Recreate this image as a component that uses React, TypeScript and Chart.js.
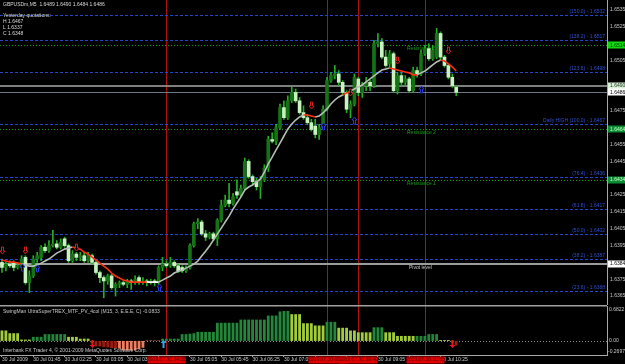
import React, { useEffect, useRef } from 'react';
import { Chart, registerables } from 'chart.js';

Chart.register(...registerables);

const FONT = '"Liberation Sans", Arial, sans-serif';
const SYMBOL = 'GBPUSDm,M5';
const DAY = '30 Jul';
const YEAR = '2009';
const DATE = '2009.07.30';
const FIRST_BAR_MIN = 65; // 01:05
const BAR_MIN = 5;
const SLOTS = 155;

const openP = [
  1.6385,1.6382,1.6384,1.6385,1.6382,1.6383,1.6388,1.6373,1.6377,1.6387,
  1.6388,1.6394,1.6392,1.6395,1.6396,1.6394,1.6399,1.6395,1.6386,1.6390,
  1.6388,1.6389,1.6386,1.6389,1.6385,1.6379,1.6376,1.6374,1.6377,1.6370,
  1.6372,1.6373,1.6372,1.6374,1.6373,1.6376,1.6373,1.6374,1.6373,1.6374,
  1.6373,1.6382,1.6384,1.6383,1.6385,1.6383,1.6382,1.6380,1.6382,1.6395,
  1.6408,1.6409,1.6402,1.6400,1.6402,1.6399,1.6410,1.6419,1.6422,1.6420,
  1.6427,1.6425,1.6429,1.6445,1.6436,1.6433,1.6430,1.6434,1.6441,1.6458,
  1.6457,1.6465,1.6477,1.6471,1.6481,1.6486,1.6481,1.6474,1.6471,1.6468,
  1.6466,1.6461,1.6465,1.6476,1.6493,1.6496,1.6497,1.6492,1.6486,1.6476,
  1.6479,1.6494,1.6486,1.6490,1.6492,1.6490,1.6515,1.6516,1.6507,1.6503,
  1.6509,1.6487,1.6496,1.6492,1.6494,1.6487,1.6499,1.6497,1.6509,1.6512,
  1.6506,1.6507,1.6521,1.6507,1.6502,1.6495,1.6489
];
const highP = [
  1.6387,1.6385,1.6386,1.6386,1.6385,1.6389,1.6389,1.6380,1.6389,1.6391,
  1.6395,1.6396,1.6398,1.6404,1.6398,1.6399,1.6400,1.6396,1.6392,1.6391,
  1.6391,1.6391,1.6391,1.6390,1.6386,1.6380,1.6377,1.6378,1.6378,1.6373,
  1.6374,1.6374,1.6375,1.6375,1.6377,1.6377,1.6376,1.6375,1.6375,1.6375,
  1.6383,1.6388,1.6386,1.6388,1.6386,1.6384,1.6383,1.6383,1.6396,1.6409,
  1.6411,1.6410,1.6404,1.6403,1.6403,1.6411,1.6422,1.6425,1.6432,1.6426,
  1.6434,1.6431,1.6447,1.6446,1.6437,1.6435,1.6436,1.6443,1.6460,1.6462,
  1.6467,1.6479,1.6481,1.6484,1.6489,1.6488,1.6483,1.6478,1.6473,1.6470,
  1.6470,1.6467,1.6478,1.6495,1.6498,1.6502,1.6499,1.6493,1.6487,1.6481,
  1.6497,1.6495,1.6492,1.6495,1.6493,1.6517,1.6521,1.6518,1.6511,1.6511,
  1.6510,1.6498,1.6498,1.6496,1.6495,1.6501,1.6501,1.6511,1.6514,1.6515,
  1.6514,1.6524,1.6522,1.6508,1.6503,1.6497,1.6490
];
const lowP = [
  1.6379,1.6380,1.6382,1.6380,1.6381,1.6382,1.6372,1.6367,1.6376,1.6385,
  1.6386,1.6391,1.6391,1.6394,1.6393,1.6393,1.6394,1.6385,1.6385,1.6386,
  1.6386,1.6385,1.6385,1.6384,1.6378,1.6373,1.6364,1.6372,1.6369,1.6365,
  1.6370,1.6371,1.6370,1.6369,1.6372,1.6372,1.6372,1.6371,1.6372,1.6371,
  1.6372,1.6380,1.6382,1.6382,1.6382,1.6379,1.6379,1.6379,1.6381,1.6394,
  1.6405,1.6401,1.6398,1.6399,1.6398,1.6395,1.6409,1.6418,1.6418,1.6419,
  1.6423,1.6424,1.6428,1.6435,1.6431,1.6428,1.6423,1.6433,1.6439,1.6456,
  1.6455,1.6464,1.6470,1.6470,1.6480,1.6480,1.6473,1.6470,1.6467,1.6463,
  1.6459,1.6458,1.6464,1.6475,1.6492,1.6494,1.6490,1.6484,1.6474,1.6471,
  1.6478,1.6484,1.6483,1.6487,1.6487,1.6489,1.6513,1.6506,1.6501,1.6501,
  1.6486,1.6485,1.6490,1.6490,1.6486,1.6486,1.6495,1.6496,1.6508,1.6505,
  1.6505,1.6506,1.6505,1.6501,1.6494,1.6489,1.6484
];
const closeP = [
  1.6382,1.6384,1.6383,1.6382,1.6383,1.6387,1.6373,1.6377,1.6387,1.6389,
  1.6394,1.6392,1.6395,1.6396,1.6394,1.6397,1.6395,1.6386,1.6390,1.6388,
  1.6389,1.6386,1.6389,1.6385,1.6379,1.6376,1.6374,1.6377,1.6370,1.6372,
  1.6373,1.6372,1.6374,1.6373,1.6375,1.6373,1.6374,1.6373,1.6374,1.6373,
  1.6382,1.6384,1.6383,1.6385,1.6383,1.6380,1.6380,1.6382,1.6395,1.6408,
  1.6409,1.6402,1.6400,1.6402,1.6399,1.6410,1.6419,1.6422,1.6420,1.6424,
  1.6425,1.6429,1.6445,1.6436,1.6433,1.6430,1.6434,1.6441,1.6458,1.6457,
  1.6465,1.6477,1.6471,1.6481,1.6486,1.6481,1.6474,1.6471,1.6468,1.6464,
  1.6461,1.6465,1.6476,1.6493,1.6496,1.6497,1.6492,1.6486,1.6476,1.6479,
  1.6495,1.6486,1.6490,1.6492,1.6490,1.6515,1.6516,1.6507,1.6502,1.6509,
  1.6487,1.6496,1.6492,1.6494,1.6487,1.6499,1.6497,1.6509,1.6512,1.6506,
  1.6511,1.6521,1.6507,1.6502,1.6495,1.6490,1.6486
];

const maValues = [
  1.63864,1.63858,1.63852,1.63852,1.63846,1.63840,1.63834,1.63828,1.63828,1.63834,
  1.63846,1.63858,1.63870,1.63888,1.63905,1.63917,1.63929,1.63935,1.63941,1.63935,
  1.63929,1.63911,1.63899,1.63882,1.63864,1.63846,1.63828,1.63810,1.63787,1.63769,
  1.63757,1.63745,1.63739,1.63733,1.63733,1.63733,1.63733,1.63733,1.63733,1.63733,
  1.63733,1.63745,1.63757,1.63769,1.63787,1.63798,1.63804,1.63816,1.63828,1.63840,
  1.63858,1.63888,1.63917,1.63947,1.63983,1.64018,1.64054,1.64090,1.64125,1.64167,
  1.64203,1.64238,1.64280,1.64298,1.64310,1.64328,1.64345,1.64387,1.64435,1.64476,
  1.64518,1.64559,1.64601,1.64643,1.64672,1.64696,1.64714,1.64726,1.64726,1.64720,
  1.64714,1.64720,1.64738,1.64762,1.64791,1.64815,1.64833,1.64845,1.64857,1.64869,
  1.64880,1.64892,1.64904,1.64922,1.64940,1.64958,1.64976,1.64993,1.64999,1.65005,
  1.64999,1.64993,1.64987,1.64981,1.64976,1.64964,1.64964,1.64976,1.64987,1.65005,
  1.65023,1.65041,1.65053,1.65047,1.65029,1.65011,1.64987
];
// bar ranges where the moving average is falling (drawn red) / flat (white)
const maDownRanges = [[0, 5], [18, 37], [77, 80], [87, 89], [99, 106], [112, 116]];
const maFlatRanges = [[37, 40]];

const histValues = [
  0.23,0.23,0.17,0.17,0.17,0.03,0.03,0.03,
  0.09,0.09,0.09,0.15,0.15,0.15,0.15,0.15,0.15,
  0.09,0.09,0.09,0.05,0.05,0.05,
  -0.05,-0.12,-0.12,-0.14,-0.14,-0.16,-0.16,
  -0.17,-0.21,-0.21,-0.21,-0.21,-0.18,-0.15,
  0.01,0.01,0.01,0.01,
  0.05,0.05,0.05,0.05,0.05,
  0.15,0.15,0.16,0.17,0.20,0.20,0.20,0.20,0.20,
  0.40,0.40,0.40,0.40,0.40,0.40,
  0.47,0.47,0.47,0.47,0.47,0.47,0.47,
  0.56,0.56,0.56,
  0.65,0.66,0.66,
  0.59,0.59,0.59,
  0.39,0.39,0.39,
  0.34,0.34,0.34,
  0.42,0.42,0.42,
  0.29,0.29,0.29,
  0.23,0.23,
  0.19,0.19,0.19,0.19,
  0.30,0.30,0.30,
  0.19,0.19,0.19,
  0.11,0.11,0.11,0.11,0.11,
  0.11,0.11,0.11,
  0.15,0.15,0.15,
  0.02,0.02,0.02,
  -0.05,-0.10
];
// indicator state per bar: W = weak up, U = strong up, S = strong down, D = weak down
const histState = (
  'WWWWWWWW' + 'UUUUUUUUU' + 'WWWWWW' + 'SSSSSSS' + 'DDDDDDD' + 'DDDD' +
  'UUUUU' + 'UUUUUUUUU' + 'UUUUUU' + 'UUUUUUU' + 'UUU' + 'UUU' +
  'WWW' + 'WWW' + 'WWW' + 'UUU' + 'WWW' + 'WW' + 'WWWW' + 'UUU' + 'WWW' +
  'WWWWW' + 'UUU' + 'UUU' + 'WWW' + 'SS'
).split('');
const indicatorMin = -0.2697;
const indicatorMax = 0.6822;
const indicatorLast = -0.0833;
const indSignalIdx = [23, 41, 115];
const indSignalUp = [false, true, false];

const yTicks = [1.6535, 1.6525, 1.6505, 1.6475, 1.6455, 1.6445, 1.6425, 1.6415, 1.6405, 1.6395, 1.6375, 1.6365];
const Y_MIN = 1.63597;
const Y_MAX = 1.65409;

const xTickIdx = [0, 8, 16, 24, 32, 40, 48, 56, 64, 72, 80, 88, 96, 104, 112];

const yesterdayH = 1.6467;
const yesterdayL = 1.6337;
const yesterdayC = 1.6348;

const fibPct = ['150.0', '138.2', '123.6', '100.0', '76.4', '61.8', '50.0', '38.2', '23.6'];
const fibPrice = [1.6532, 1.6517, 1.6498, 1.6467, 1.6436, 1.6417, 1.6402, 1.6387, 1.6368];
const pivotNames = ['Resistance 3', 'Resistance 2', 'Resistance 1'];
const pivotPrices = [1.6514, 1.6464, 1.6434];
const pivotLevel = 1.6384;
const askPrice = 1.6490;

const markerIdx = [42, 83, 91, 108];

const sellIdx = [0, 6, 19, 79, 89, 101, 114];
const sellPrice = [1.63923, 1.63923, 1.63941, 1.64785, 1.64863, 1.65053, 1.65112];
const buyIdx = [5, 9, 40, 82, 90, 107];
const buyPrice = [1.63822, 1.63816, 1.63703, 1.64660, 1.64696, 1.64880];

function barTime(i: number) {
  const m = FIRST_BAR_MIN + BAR_MIN * i;
  return String(Math.floor(m / 60)).padStart(2, '0') + ':' + String(m % 60).padStart(2, '0');
}

const C = {
  wick: '#22b022',
  bull: '#157215',
  bear: '#c8f2c0',
  maUp: '#b4beb4',
  maDown: '#ff3010',
  maFlat: '#ffffff',
  fib: '#2446c8',
  fibText: '#2e50d0',
  pivot: '#0f9a0f',
  pivotText: '#1a9a1a',
  red: '#b01010',
  axis: '#a8a8a8',
  text: '#c8c8c8',
  sell: '#d02020',
  buy: '#2a3ad8',
};
const histColors: Record<string, string> = { W: '#a2cc3c', U: '#23863a', S: '#9a1c10', D: '#ee7c5e' };

function inRanges(i: number, ranges: number[][]) {
  return ranges.some(([a, b]) => i >= a && i < b);
}

function arrowPath(ctx: CanvasRenderingContext2D, x: number, cy: number, up: boolean, w = 5, h = 7) {
  const hw = w / 2, head = 3, sw = 1;
  const top = cy - h / 2, bot = cy + h / 2;
  ctx.beginPath();
  if (up) {
    ctx.moveTo(x, top); ctx.lineTo(x + hw, top + head); ctx.lineTo(x + sw, top + head);
    ctx.lineTo(x + sw, bot); ctx.lineTo(x - sw, bot); ctx.lineTo(x - sw, top + head); ctx.lineTo(x - hw, top + head);
  } else {
    ctx.moveTo(x, bot); ctx.lineTo(x + hw, bot - head); ctx.lineTo(x + sw, bot - head);
    ctx.lineTo(x + sw, top); ctx.lineTo(x - sw, top); ctx.lineTo(x - sw, bot - head); ctx.lineTo(x - hw, bot - head);
  }
  ctx.closePath();
}

function hLine(ctx: CanvasRenderingContext2D, x0: number, x1: number, y: number) {
  ctx.beginPath(); ctx.moveTo(x0, y); ctx.lineTo(x1, y); ctx.stroke();
}
function vLine(ctx: CanvasRenderingContext2D, x: number, y0: number, y1: number) {
  ctx.beginPath(); ctx.moveTo(x, y0); ctx.lineTo(x, y1); ctx.stroke();
}

const mainPlugin = {
  id: 'mt4main',
  beforeDatasetsDraw(chart: any) {
    const { ctx, chartArea: a, scales: { x, y } } = chart;
    ctx.save();
    ctx.lineWidth = 1;
    // vertical markers
    ctx.strokeStyle = C.red;
    markerIdx.forEach((i) => vLine(ctx, Math.round(x.getPixelForValue(i)) + 0.5, a.top, a.bottom));
    // fibonacci levels
    ctx.setLineDash([3, 2]);
    ctx.strokeStyle = C.fib;
    fibPrice.forEach((p) => hLine(ctx, a.left, a.right, Math.round(y.getPixelForValue(p)) + 0.5));
    // pivot resistances
    ctx.setLineDash([1, 2]);
    ctx.strokeStyle = C.pivot;
    pivotPrices.forEach((p) => hLine(ctx, a.left, a.right, Math.round(y.getPixelForValue(p)) + 0.5));
    ctx.setLineDash([]);
    // pivot level
    ctx.strokeStyle = '#9c9c9c';
    ctx.lineWidth = 2;
    hLine(ctx, a.left, a.right, Math.round(y.getPixelForValue(pivotLevel)));
    // ask / bid
    ctx.lineWidth = 1.5;
    ctx.strokeStyle = '#a8a8a8';
    hLine(ctx, a.left, a.right, Math.round(y.getPixelForValue(askPrice)));
    ctx.lineWidth = 1;
    ctx.strokeStyle = '#6c7888';
    hLine(ctx, a.left, a.right, Math.round(y.getPixelForValue(closeP[closeP.length - 1])) + 0.5);

    // labels
    ctx.font = `5px ${FONT}`;
    ctx.textAlign = 'right';
    ctx.textBaseline = 'bottom';
    ctx.fillStyle = C.fibText;
    fibPct.forEach((pct, k) => {
      const label = (pct === '100.0' ? 'Daily HIGH ' : '') + `(${pct}) - ${fibPrice[k].toFixed(4)}`;
      ctx.fillText(label, a.right - 2, Math.round(y.getPixelForValue(fibPrice[k])) - 0.5);
    });
    ctx.textAlign = 'left';
    ctx.textBaseline = 'middle';
    ctx.fillStyle = C.pivotText;
    pivotNames.forEach((n, k) => ctx.fillText(n, 407, y.getPixelForValue(pivotPrices[k]) + 3.5));
    ctx.fillStyle = '#c8c8c8';
    ctx.fillText('Pivot level', 409, y.getPixelForValue(pivotLevel) + 3.5);
    ctx.restore();
  },
  afterDatasetsDraw(chart: any) {
    const { ctx, scales: { x, y } } = chart;
    ctx.save();
    ctx.lineWidth = 1;
    sellIdx.forEach((i, k) => {
      arrowPath(ctx, Math.round(x.getPixelForValue(i)) + 0.5, Math.round(y.getPixelForValue(sellPrice[k])) + 0.5, false);
      ctx.fillStyle = '#000'; ctx.fill(); ctx.strokeStyle = C.sell; ctx.stroke();
    });
    buyIdx.forEach((i, k) => {
      arrowPath(ctx, Math.round(x.getPixelForValue(i)) + 0.5, Math.round(y.getPixelForValue(buyPrice[k])) + 0.5, true);
      ctx.fillStyle = '#000'; ctx.fill(); ctx.strokeStyle = C.buy; ctx.stroke();
    });
    ctx.restore();
  },
  afterDraw(chart: any) {
    const { ctx, chartArea: a, scales: { y } } = chart;
    const n = closeP.length - 1;
    ctx.save();
    ctx.font = `5px ${FONT}`;
    ctx.textAlign = 'left';
    ctx.textBaseline = 'middle';
    ctx.fillStyle = '#d8d8d8';
    ctx.fillText(`${SYMBOL}  ${openP[n].toFixed(4)} ${highP[n].toFixed(4)} ${lowP[n].toFixed(4)} ${closeP[n].toFixed(4)}`, 3, 5);
    ctx.fillText('Yesterday quotations:', 3, 15.5);
    ctx.fillText(`H ${yesterdayH.toFixed(4)}`, 3, 21.5);
    ctx.fillText(`L ${yesterdayL.toFixed(4)}`, 3, 27.5);
    ctx.fillText(`C ${yesterdayC.toFixed(4)}`, 3, 33.5);

    const boxes = [
      { p: pivotPrices[0], bg: '#12d812', fg: '#063006' },
      { p: pivotPrices[1], bg: '#0c8c34', fg: '#c8ffc8' },
      { p: pivotPrices[2], bg: '#0c8c34', fg: '#c8ffc8' },
      { p: askPrice, bg: '#d8f2d8', fg: '#203020' },
      { p: closeP[n], bg: '#ffffff', fg: '#000000' },
      { p: pivotLevel, bg: '#ffffff', fg: '#000000' },
    ];
    boxes.forEach((b) => {
      const py = y.getPixelForValue(b.p);
      ctx.fillStyle = b.bg;
      ctx.fillRect(a.right + 1, Math.round(py) - 3.5, 18, 7);
      ctx.fillStyle = b.fg;
      ctx.fillText(b.p.toFixed(4), a.right + 3, py);
    });
    ctx.restore();
  },
};

const indPlugin = {
  id: 'mt4ind',
  beforeDatasetsDraw(chart: any) {
    const { ctx, chartArea: a, scales: { x, y } } = chart;
    ctx.save();
    ctx.lineWidth = 1;
    ctx.strokeStyle = '#8a8a8a';
    ctx.setLineDash([1, 2]);
    hLine(ctx, a.left, a.right, Math.round(y.getPixelForValue(0)) + 0.5);
    ctx.setLineDash([]);
    ctx.strokeStyle = C.red;
    markerIdx.forEach((i) => vLine(ctx, Math.round(x.getPixelForValue(i)) + 0.5, a.top, a.bottom));
    ctx.restore();
  },
  afterDatasetsDraw(chart: any) {
    const { ctx, chartArea: a, scales: { x, y } } = chart;
    ctx.save();
    indSignalIdx.forEach((i, k) => {
      const up = indSignalUp[k];
      arrowPath(ctx, Math.round(x.getPixelForValue(i)) + 0.5, Math.round(y.getPixelForValue(-0.06)), up, 6, 8);
      ctx.fillStyle = up ? '#2aa8f0' : '#e01818';
      ctx.fill();
    });
    ctx.font = `5px ${FONT}`;
    ctx.textAlign = 'left';
    ctx.textBaseline = 'middle';
    ctx.fillStyle = C.text;
    ctx.fillText(`SwingMan UltraSuperTREX_MTF_PV_4col (M15, 3, E.E.E, C) ${indicatorLast.toFixed(4)}`, 3, a.top + 6);
    ctx.fillText('Interbank FX Trader 4, \u00A9 2001-2009 MetaQuotes Software Corp.', 3, a.bottom - 4);
    ctx.restore();
  },
  afterDraw(chart: any) {
    const { ctx, chartArea: a, scales: { x, y } } = chart;
    ctx.save();
    // pane separator
    ctx.fillStyle = '#a0a0a0';
    ctx.fillRect(0, 0, a.right, 1.5);
    ctx.font = `5px ${FONT}`;
    ctx.textBaseline = 'middle';
    ctx.textAlign = 'left';
    ctx.fillStyle = C.text;
    ctx.fillText(indicatorMax.toFixed(4), a.right + 2, a.top + 4);
    ctx.fillText('0.00', a.right + 2, y.getPixelForValue(0));
    ctx.fillText(indicatorMin.toFixed(4), a.right + 1, a.bottom - 3);
    // time labels of the vertical markers
    ctx.textAlign = 'center';
    markerIdx.forEach((i) => {
      const px = Math.round(x.getPixelForValue(i)) + 0.5;
      ctx.fillStyle = '#e00000';
      ctx.fillRect(px - 19, a.bottom + 1.5, 38, 7);
      ctx.fillStyle = '#5a0000';
      ctx.fillText(`${DATE} ${barTime(i)}`, px, a.bottom + 5);
    });
    ctx.restore();
  },
};

export default function App() {
  const mainRef = useRef<HTMLCanvasElement>(null);
  const indRef = useRef<HTMLCanvasElement>(null);

  useEffect(() => {
    if (!mainRef.current || !indRef.current) return;
    const labels = Array.from({ length: SLOTS }, (_, i) => (i < closeP.length ? barTime(i) : ''));
    const bodies = openP.map((o, i) => [o, closeP[i]]);
    const wicks = lowP.map((l, i) => [l, highP[i]]);
    const bodyColors = openP.map((o, i) => (closeP[i] >= o ? C.bull : C.bear));

    const main = new Chart(mainRef.current, {
      type: 'bar',
      data: {
        labels,
        datasets: [
          {
            type: 'line',
            data: maValues,
            borderWidth: 1.6,
            pointRadius: 0,
            borderColor: C.maUp,
            segment: {
              borderColor: (c: any) =>
                inRanges(c.p0DataIndex, maDownRanges) ? C.maDown : inRanges(c.p0DataIndex, maFlatRanges) ? C.maFlat : C.maUp,
            },
            order: 1,
          } as any,
          {
            type: 'bar',
            data: bodies,
            backgroundColor: bodyColors,
            barThickness: 3,
            minBarLength: 1,
            grouped: false,
            order: 2,
          } as any,
          {
            type: 'bar',
            data: wicks,
            backgroundColor: C.wick,
            barThickness: 1,
            grouped: false,
            order: 3,
          } as any,
        ],
      },
      options: {
        responsive: false,
        animation: false,
        devicePixelRatio: 1,
        events: [],
        layout: { padding: 0 },
        plugins: { legend: { display: false }, tooltip: { enabled: false } },
        scales: {
          x: { display: false, grid: { display: false } },
          y: {
            position: 'right',
            min: Y_MIN,
            max: Y_MAX,
            grid: { display: false, drawTicks: false },
            border: { display: true, color: C.axis, width: 1 },
            ticks: {
              color: C.text,
              font: { family: FONT, size: 5 },
              padding: 3,
              callback: (v: any) => Number(v).toFixed(4),
            },
            afterBuildTicks: (s: any) => {
              s.ticks = yTicks.map((v) => ({ value: v }));
            },
            afterFit: (s: any) => {
              s.width = 18;
              s.paddingTop = 0;
              s.paddingBottom = 0;
            },
          },
        },
      } as any,
      plugins: [mainPlugin],
    });

    const ind = new Chart(indRef.current, {
      type: 'bar',
      data: {
        labels,
        datasets: [
          {
            data: histValues,
            backgroundColor: histState.map((s) => histColors[s]),
            barPercentage: 0.72,
            categoryPercentage: 1,
          },
        ],
      },
      options: {
        responsive: false,
        animation: false,
        devicePixelRatio: 1,
        events: [],
        layout: { padding: { top: 1, left: 0, right: 0, bottom: 0 } },
        plugins: { legend: { display: false }, tooltip: { enabled: false } },
        scales: {
          x: {
            grid: { display: true, offset: false, drawOnChartArea: false, drawTicks: true, tickLength: 2, color: C.axis },
            border: { display: true, color: C.axis, width: 1 },
            ticks: {
              autoSkip: false,
              maxRotation: 0,
              minRotation: 0,
              align: 'start',
              padding: 0,
              color: C.text,
              font: { family: FONT, size: 5 },
              callback: (v: any) => (v === 0 ? `${DAY} ${YEAR}` : `${DAY} ${barTime(Number(v))}`),
            },
            afterBuildTicks: (s: any) => {
              s.ticks = xTickIdx.map((v) => ({ value: v }));
            },
            afterFit: (s: any) => {
              s.height = 9;
              s.paddingLeft = 0;
              s.paddingRight = 0;
            },
          },
          y: {
            position: 'right',
            min: -0.31,
            max: 0.77,
            grid: { display: false, drawTicks: false },
            border: { display: true, color: C.axis, width: 1 },
            ticks: { display: false },
            afterFit: (s: any) => {
              s.width = 18;
              s.paddingTop = 0;
              s.paddingBottom = 0;
            },
          },
        },
      } as any,
      plugins: [indPlugin],
    });

    return () => {
      main.destroy();
      ind.destroy();
    };
  }, []);

  return (
    <div style={{ position: 'fixed', left: 0, top: 0, width: 625, height: 364, background: '#000', overflow: 'hidden' }}>
      <canvas ref={mainRef} width={625} height={305} style={{ position: 'absolute', left: 0, top: 0, width: 625, height: 305 }} />
      <canvas ref={indRef} width={625} height={59} style={{ position: 'absolute', left: 0, top: 305, width: 625, height: 59 }} />
    </div>
  );
}
